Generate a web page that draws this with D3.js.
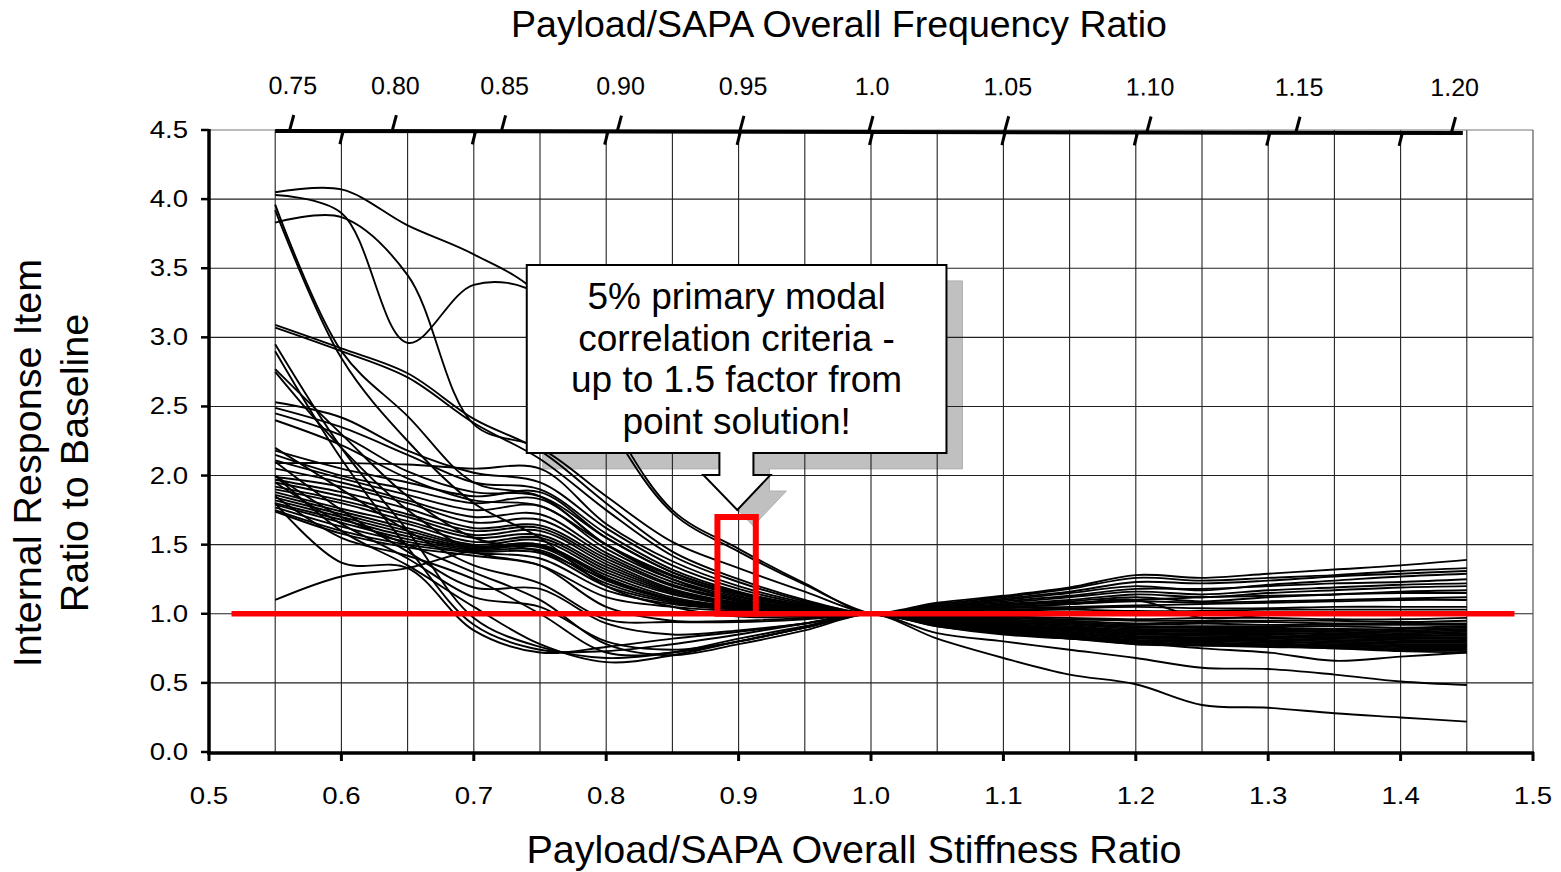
<!DOCTYPE html>
<html><head><meta charset="utf-8">
<script src="https://cdn.jsdelivr.net/npm/d3@7"></script>
<style>
body{margin:0;background:#fff}
svg{display:block}
text{font-family:"Liberation Sans",Arial,sans-serif;fill:#000}
</style>
</head><body>
<svg id="c" width="1561" height="872"></svg>
<script>
// ---------- data ----------
const stiffnessRatio = [0.55,0.60,0.65,0.70,0.75,0.80,0.85,0.90,0.95,1.00,1.05,1.10,1.15,1.20,1.25,1.30,1.35,1.40,1.45];
const xTickValues = [0.5,0.6,0.7,0.8,0.9,1.0,1.1,1.2,1.3,1.4,1.5];
const yTickValues = [0,0.5,1.0,1.5,2.0,2.5,3.0,3.5,4.0,4.5];
const gridX = [0.55,0.60,0.65,0.70,0.75,0.80,0.85,0.90,0.95,1.00,1.05,1.10,1.15,1.20,1.25,1.30,1.35,1.40,1.45];
const gridY = [0.5,1.0,1.5,2.0,2.5,3.0,3.5,4.0];
const freqTickValues = [0.75,0.80,0.85,0.90,0.95,1.0,1.05,1.10,1.15,1.20];
const freqTickLabels = ["0.75","0.80","0.85","0.90","0.95","1.0","1.05","1.10","1.15","1.20"];
const freqMinorStiffness = [0.6,0.7,0.8,0.9,1.0,1.1,1.2,1.3,1.4];
const freqAxisSpan = [0.55,1.447];
const baselineLineX = [0.517,1.486];
const baselineValue = 1.0;
const criteriaStiffness = [0.884,0.913];
const criteriaRatio = [1.0,1.7];
const calloutBoxX = [0.740,1.057];
const calloutBoxY = [2.164,3.524];
const calloutNotchX = [0.8855,0.9112];
const calloutBaseX = [0.8734,0.924];
const calloutBaseY = 2.004;
const calloutTip = [0.899,1.751];
const calloutText = ["5% primary modal","correlation criteria -","up to 1.5 factor from","point solution!"];

const s01=[4.05,4.07,3.81,3.60,3.30,2.45,1.75,1.47,1.22,1.00,1.05,1.09,1.13,1.18,1.18,1.20,1.22,1.23,1.25];
const s02=[4.03,3.90,2.96,3.38,3.30,2.40,1.73,1.45,1.21,1.00,0.97,0.95,0.93,0.90,0.90,0.90,0.89,0.89,0.90];
const s03=[3.83,3.87,3.45,2.37,2.20,1.85,1.52,1.33,1.16,1.00,1.03,1.06,1.08,1.10,1.12,1.13,1.14,1.15,1.15];
const s04=[3.96,2.90,2.43,1.95,1.85,1.50,1.25,1.10,1.04,1.00,0.95,0.91,0.88,0.84,0.84,0.83,0.83,0.82,0.82];
const s05=[3.92,2.85,2.25,1.80,1.55,1.20,1.05,0.98,0.98,1.00,0.93,0.88,0.85,0.80,0.82,0.80,0.78,0.77,0.77];
const s06=[3.09,2.92,2.74,2.41,2.18,1.80,1.45,1.25,1.10,1.00,1.07,1.12,1.18,1.26,1.24,1.26,1.28,1.31,1.33];
const s07=[3.07,2.90,2.71,2.38,2.12,1.75,1.42,1.23,1.09,1.00,0.99,0.97,0.96,0.95,0.95,0.95,0.95,0.94,0.95];
const s08=[2.95,2.20,1.60,0.97,0.76,0.68,0.72,0.82,0.91,1.00,0.86,0.80,0.74,0.68,0.61,0.60,0.56,0.51,0.485];
const s09=[2.90,2.12,1.48,0.92,0.74,0.73,0.78,0.85,0.93,1.00,0.92,0.87,0.83,0.79,0.78,0.77,0.76,0.74,0.74];
const s10=[2.77,2.30,1.85,1.55,1.45,1.25,1.10,1.04,1.02,1.00,1.02,1.03,1.04,1.05,1.04,1.04,1.05,1.05,1.05];
const s11=[2.75,2.20,1.75,1.45,1.35,1.05,0.95,0.95,0.97,1.00,0.94,0.90,0.86,0.83,0.82,0.82,0.81,0.80,0.80];
const s12=[2.53,2.42,2.18,2.02,1.95,1.62,1.35,1.18,1.07,1.00,1.08,1.13,1.19,1.28,1.26,1.29,1.32,1.35,1.39];
const s13=[2.49,2.35,2.15,1.95,1.90,1.58,1.32,1.16,1.06,1.00,0.96,0.93,0.90,0.87,0.87,0.86,0.86,0.85,0.86];
const s14=[2.45,2.29,2.03,1.88,1.85,1.55,1.30,1.15,1.06,1.00,1.04,1.07,1.10,1.14,1.12,1.15,1.17,1.19,1.20];
const s15=[2.40,2.22,1.98,1.82,1.78,1.50,1.28,1.14,1.05,1.00,0.98,0.96,0.94,0.92,0.93,0.92,0.92,0.92,0.92];
const s16=[2.09,2.09,2.08,2.05,2.05,1.65,1.38,1.20,1.08,1.00,1.06,1.11,1.16,1.23,1.22,1.24,1.27,1.29,1.31];
const s17=[2.18,2.05,1.95,1.85,1.88,1.55,1.30,1.15,1.06,1.00,0.97,0.94,0.91,0.88,0.88,0.88,0.88,0.87,0.88];
const s18=[2.15,2.00,1.90,1.80,1.83,1.50,1.27,1.13,1.05,1.00,1.03,1.05,1.07,1.09,1.08,1.09,1.10,1.11,1.12];
const s19=[2.11,1.98,1.86,1.75,1.78,1.47,1.25,1.12,1.05,1.00,0.95,0.92,0.89,0.86,0.85,0.85,0.84,0.84,0.84];
const s20=[2.05,1.95,1.82,1.70,1.72,1.44,1.23,1.11,1.04,1.00,1.06,1.10,1.15,1.20,1.17,1.21,1.24,1.27,1.29];
const s21=[1.99,1.92,1.80,1.66,1.68,1.42,1.21,1.10,1.04,1.00,0.94,0.89,0.86,0.82,0.82,0.81,0.80,0.79,0.79];
const s22=[1.97,1.88,1.76,1.62,1.64,1.40,1.20,1.09,1.03,1.00,0.99,0.98,0.97,0.96,0.97,0.97,0.96,0.96,0.97];
const s23=[1.95,1.85,1.72,1.60,1.62,1.38,1.18,1.08,1.03,1.00,0.93,0.88,0.84,0.80,0.80,0.79,0.77,0.76,0.76];
const s24=[1.92,1.82,1.70,1.57,1.60,1.36,1.17,1.07,1.03,1.00,1.05,1.08,1.12,1.16,1.14,1.17,1.19,1.21,1.22];
const s25=[1.90,1.80,1.67,1.55,1.57,1.34,1.16,1.07,1.02,1.00,0.98,0.95,0.93,0.91,0.91,0.91,0.91,0.90,0.91];
const s26=[1.88,1.76,1.65,1.52,1.55,1.32,1.15,1.06,1.02,1.00,0.92,0.86,0.83,0.78,0.78,0.77,0.75,0.74,0.73];
const s27=[1.86,1.74,1.62,1.50,1.53,1.30,1.14,1.06,1.02,1.00,1.02,1.04,1.05,1.06,1.07,1.08,1.09,1.10,1.10];
const s28=[1.84,1.72,1.60,1.49,1.50,1.28,1.12,1.05,1.02,1.00,0.96,0.92,0.89,0.86,0.86,0.86,0.85,0.84,0.85];
const s29=[1.82,1.70,1.58,1.48,1.49,1.26,1.11,1.05,1.02,1.00,0.97,0.94,0.92,0.89,0.89,0.89,0.89,0.88,0.89];
const s30=[1.80,1.68,1.56,1.47,1.48,1.24,1.10,1.04,1.01,1.00,1.04,1.06,1.09,1.12,1.09,1.12,1.14,1.16,1.17];
const s31=[1.79,1.66,1.54,1.46,1.46,1.22,1.09,1.04,1.01,1.00,0.94,0.90,0.87,0.83,0.83,0.83,0.82,0.81,0.81];
const s32=[1.77,1.63,1.52,1.45,1.44,1.20,1.08,1.03,1.01,1.00,1.01,1.02,1.03,1.02,1.02,1.03,1.03,1.03,1.03];
const s33=[1.75,1.60,1.50,1.44,1.40,1.17,1.07,1.03,1.01,1.00,0.93,0.89,0.85,0.81,0.81,0.80,0.79,0.78,0.78];
const s34=[1.74,1.58,1.48,1.42,1.35,1.12,1.05,1.02,1.01,1.00,0.96,0.93,0.90,0.88,0.87,0.87,0.87,0.86,0.87];
const s35=[1.10,1.27,1.33,1.46,1.50,1.26,1.10,1.04,1.02,1.00,0.98,0.97,0.95,0.93,0.94,0.94,0.93,0.93,0.93];
const s36=[1.80,1.37,1.33,0.88,0.72,0.76,0.82,0.87,0.93,1.00,0.92,0.86,0.82,0.79,0.75,0.72,0.66,0.69,0.72];
const s37=[2.00,1.60,1.35,1.05,0.78,0.65,0.70,0.80,0.90,1.00,0.82,0.68,0.56,0.49,0.34,0.32,0.28,0.25,0.22];
const s38=[2.10,1.75,1.45,1.19,1.18,0.93,0.85,0.88,0.93,1.00,0.92,0.87,0.84,0.79,0.79,0.78,0.77,0.75,0.75];
const s39=[1.95,1.65,1.40,1.12,1.05,0.80,0.74,0.80,0.90,1.00,0.91,0.86,0.82,0.78,0.77,0.76,0.75,0.73,0.72];
const s40=[2.20,1.90,1.60,1.35,1.22,0.96,0.94,0.94,0.96,1.00,1.02,1.04,1.07,1.10,0.97,0.99,1.00,1.00,0.99];
const s41=[2.00,1.70,1.50,1.30,1.10,0.78,0.70,0.78,0.88,1.00,0.91,0.85,0.82,0.80,0.77,0.78,0.76,0.77,0.77];
const s42=[1.85,1.55,1.42,1.25,1.00,0.72,0.72,0.80,0.90,1.00,0.95,0.91,0.88,0.85,0.85,0.84,0.83,0.83,0.83];
const seriesList=[s01,s02,s03,s04,s05,s06,s07,s08,s09,s10,s11,s12,s13,s14,s15,s16,s17,s18,s19,s20,s21,
  s22,s23,s24,s25,s26,s27,s28,s29,s30,s31,s32,s33,s34,s35,s36,s37,s38,s39,s40,s41,s42];

// ---------- drawing ----------
const svg = d3.select("#c");
const x = d3.scaleLinear().domain([0.5,1.5]).range([209,1533]);
const y = d3.scaleLinear().domain([0,4.5]).range([752,130]);
const fmt1 = d3.format(".1f");

function calloutPath(dx,dy){
  const X0=x(calloutBoxX[0])+dx, X1=x(calloutBoxX[1])+dx;
  const YT=y(calloutBoxY[1])+dy, YB=y(calloutBoxY[0])+dy;
  const nL=x(calloutNotchX[0])+dx, nR=x(calloutNotchX[1])+dx;
  const bL=x(calloutBaseX[0])+dx, bR=x(calloutBaseX[1])+dx, bY=y(calloutBaseY)+dy;
  const tX=x(calloutTip[0])+dx, tY=y(calloutTip[1])+dy;
  return `M${X0},${YT}L${X1},${YT}L${X1},${YB}L${nR},${YB}L${nR},${bY}L${bR},${bY}L${tX},${tY}L${bL},${bY}L${nL},${bY}L${nL},${YB}L${X0},${YB}Z`;
}

// shadow
svg.append("path").attr("d",calloutPath(16,16)).attr("fill","#c0c0c0").attr("stroke","#b0b0b0").attr("stroke-width",1);

// grid
const grid = svg.append("g");
grid.selectAll(".gx").data(gridX).join("line")
  .attr("x1",d=>x(d)).attr("x2",d=>x(d)).attr("y1",y(4.5)).attr("y2",y(0))
  .attr("stroke","#222").attr("stroke-width",1.1);
grid.selectAll(".gy").data(gridY).join("line")
  .attr("x1",x(0.5)).attr("x2",x(1.5)).attr("y1",d=>y(d)).attr("y2",d=>y(d))
  .attr("stroke","#222").attr("stroke-width",1.1);
grid.append("line").attr("x1",x(0.5)).attr("x2",x(1.5)).attr("y1",y(4.5)).attr("y2",y(4.5)).attr("stroke","#777").attr("stroke-width",1.2);
grid.append("line").attr("x1",x(1.5)).attr("x2",x(1.5)).attr("y1",y(4.5)).attr("y2",y(0)).attr("stroke","#555").attr("stroke-width",1.2);

// curves
const line = d3.line().x(d=>x(d[0])).y(d=>y(d[1])).curve(d3.curveCatmullRom.alpha(0.5));
svg.append("g").selectAll("path").data(seriesList).join("path")
  .attr("d",s=>line(s.map((v,i)=>[stiffnessRatio[i],v])))
  .attr("fill","none").attr("stroke","#000").attr("stroke-width",1.9).attr("stroke-linejoin","round");

// red baseline and criteria box
svg.append("line").attr("x1",x(baselineLineX[0])).attr("x2",x(baselineLineX[1]))
  .attr("y1",y(baselineValue)).attr("y2",y(baselineValue)).attr("stroke","#ff0000").attr("stroke-width",5.5);
svg.append("rect").attr("x",x(criteriaStiffness[0])).attr("y",y(criteriaRatio[1]))
  .attr("width",x(criteriaStiffness[1])-x(criteriaStiffness[0])).attr("height",y(criteriaRatio[0])-y(criteriaRatio[1]))
  .attr("fill","none").attr("stroke","#ff0000").attr("stroke-width",6);

// callout
svg.append("path").attr("d",calloutPath(0,0)).attr("fill","#fff").attr("stroke","#000").attr("stroke-width",2);
const cx = (x(calloutBoxX[0])+x(calloutBoxX[1]))/2;
const ct = y(calloutBoxY[1]);
svg.append("g").selectAll("text").data(calloutText).join("text")
  .attr("x",cx).attr("y",(d,i)=>ct+44+i*41.7).attr("text-anchor","middle")
  .attr("font-size",37).text(d=>d);

// axes
const ax = svg.append("g");
ax.append("line").attr("x1",x(0.5)).attr("x2",x(0.5)).attr("y1",y(4.5)-1).attr("y2",y(0)+2).attr("stroke","#000").attr("stroke-width",3.5);
ax.append("line").attr("x1",x(0.5)-2).attr("x2",x(1.5)+1).attr("y1",y(0)+1).attr("y2",y(0)+1).attr("stroke","#000").attr("stroke-width",3.5);
ax.selectAll(".yt").data(yTickValues).join("line")
  .attr("x1",x(0.5)-8).attr("x2",x(0.5)).attr("y1",d=>y(d)).attr("y2",d=>y(d)).attr("stroke","#000").attr("stroke-width",2.5);
ax.selectAll(".xt").data(xTickValues).join("line")
  .attr("x1",d=>x(d)).attr("x2",d=>x(d)).attr("y1",y(0)).attr("y2",y(0)+9).attr("stroke","#000").attr("stroke-width",3);
ax.selectAll(".yl").data(yTickValues).join("text")
  .attr("transform",d=>`translate(${x(0.5)-21},${y(d)+8}) scale(1.2,1)`)
  .attr("text-anchor","end").attr("font-size",23).text(d=>fmt1(d));
ax.selectAll(".xl").data(xTickValues).join("text")
  .attr("transform",d=>`translate(${x(d)},${y(0)+52}) scale(1.2,1)`)
  .attr("text-anchor","middle").attr("font-size",23).text(d=>fmt1(d));

// top frequency axis
const ft = svg.append("g").attr("transform",`rotate(0.1 ${x(1.0)} 132)`);
ft.append("line").attr("x1",x(freqAxisSpan[0])).attr("x2",x(freqAxisSpan[1])).attr("y1",132).attr("y2",132).attr("stroke","#000").attr("stroke-width",4);
ft.selectAll(".fu").data(freqTickValues).join("line")
  .attr("x1",d=>x(d*d)-2).attr("x2",d=>x(d*d)+2).attr("y1",131).attr("y2",116)
  .attr("stroke","#000").attr("stroke-width",3);
ft.selectAll(".fd").data(freqMinorStiffness).join("line")
  .attr("x1",d=>x(d)-1.5).attr("x2",d=>x(d)+1.5).attr("y1",145).attr("y2",133)
  .attr("stroke","#000").attr("stroke-width",3);
ft.selectAll(".fl").data(freqTickValues).join("text")
  .attr("x",(d)=>x(d*d)+1).attr("y",95).attr("text-anchor","middle").attr("font-size",25)
  .text((d,i)=>freqTickLabels[i]);

// titles
svg.append("text").attr("x",839).attr("y",37).attr("text-anchor","middle").attr("font-size",37.5)
  .text("Payload/SAPA Overall Frequency Ratio");
svg.append("text").attr("x",854).attr("y",863).attr("text-anchor","middle").attr("font-size",39.5)
  .text("Payload/SAPA Overall Stiffness Ratio");
svg.append("text").attr("transform","translate(41,463) rotate(-90)").attr("text-anchor","middle").attr("font-size",39.5)
  .text("Internal Response Item");
svg.append("text").attr("transform","translate(88,463) rotate(-90)").attr("text-anchor","middle").attr("font-size",39.5)
  .text("Ratio to Baseline");
</script>
</body></html>
